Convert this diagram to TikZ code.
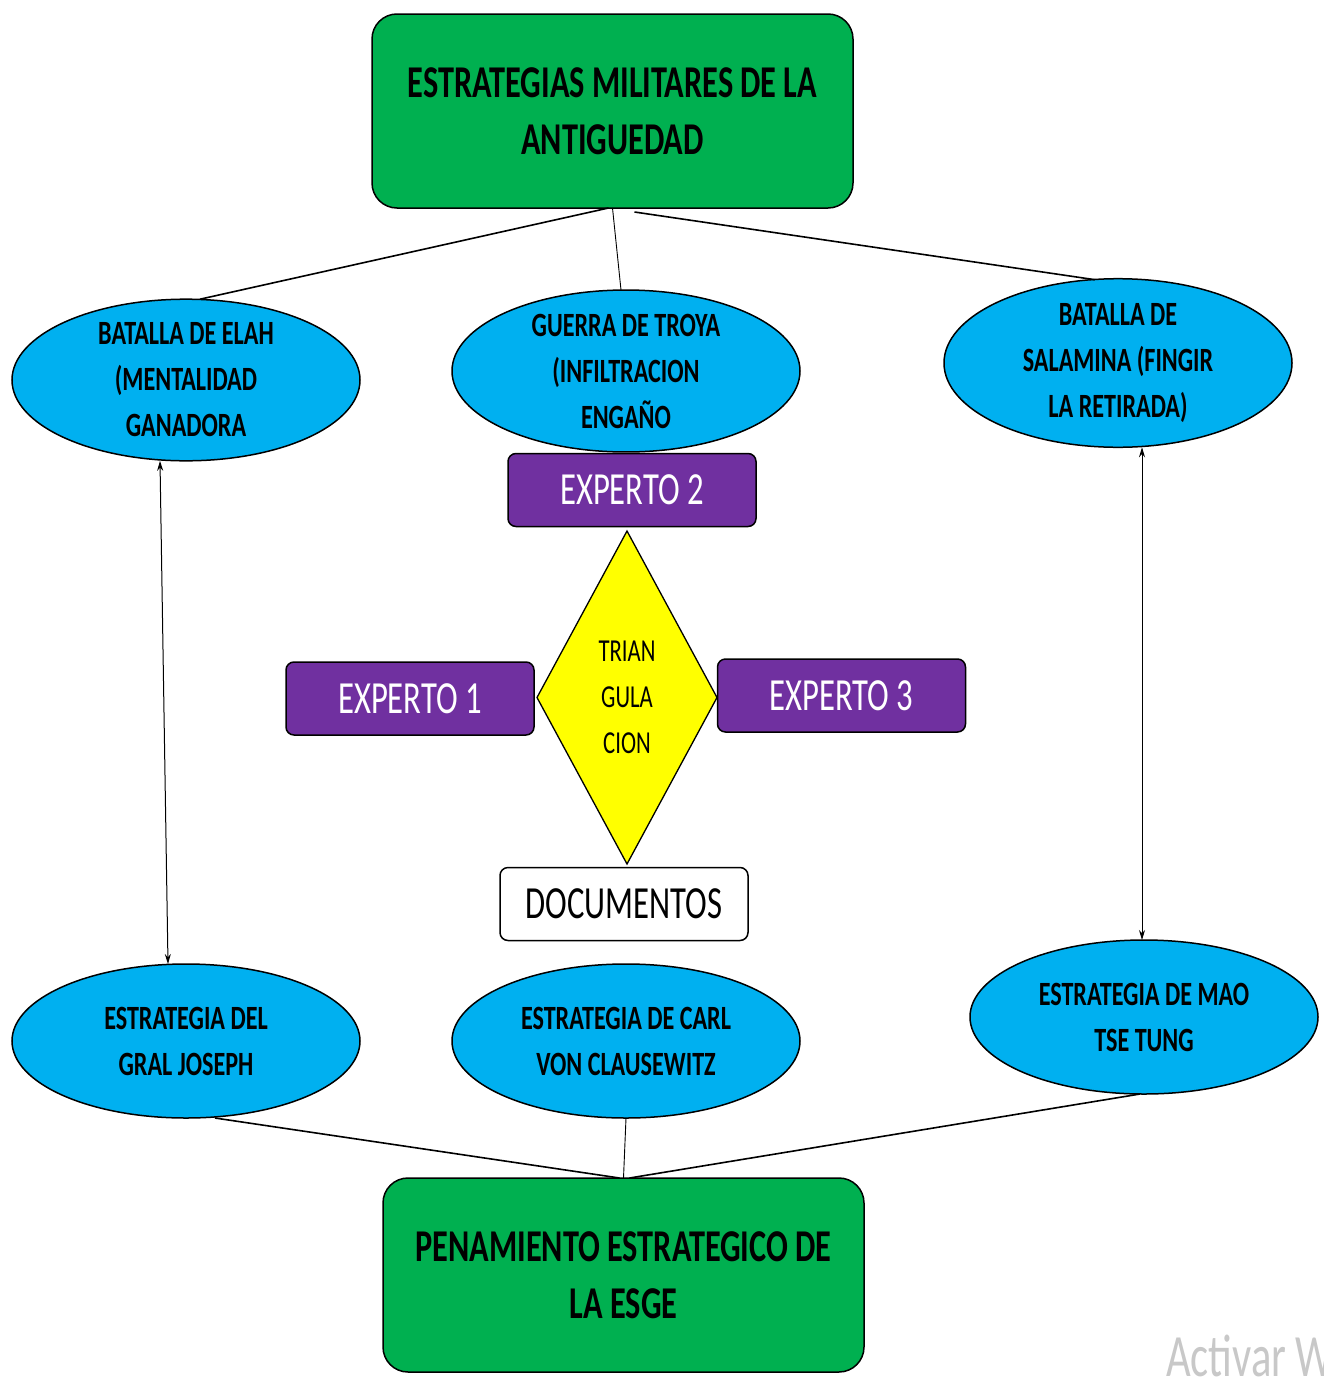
\documentclass[tikz,border=0pt]{standalone}
\usepackage{fontspec}
\setmainfont{Carlito}[FakeStretch=0.71]
\usetikzlibrary{shapes.geometric,arrows.meta,calc}
\definecolor{cgreen}{HTML}{00B050}
\definecolor{cblue}{HTML}{00B0F0}
\definecolor{cpurple}{HTML}{7030A0}
\definecolor{cyellow}{HTML}{FFFF00}
\definecolor{wmgray}{HTML}{C8C8C8}
\begin{document}
\begin{tikzpicture}[x=1pt,y=-1pt,
  every node/.style={inner sep=0pt, outer sep=0pt},
  titlebox/.style={draw=black, line width=1.5pt, fill=cgreen, rounded corners=25pt,
    minimum width=481pt, minimum height=194pt, align=center,
    font=\fontsize{45.5}{57}\selectfont\bfseries},
  oval/.style={ellipse, draw=black, line width=1.5pt, fill=cblue,
    minimum width=348pt, minimum height=154pt, align=center,
    font=\fontsize{34}{46}\selectfont\bfseries},
  expbox/.style={draw=black, line width=1.5pt, fill=cpurple, rounded corners=8pt,
    minimum width=248pt, minimum height=73pt, text=white,
    font=\fontsize{46}{50}\selectfont},
  docbox/.style={draw=black, line width=1.5pt, fill=white, rounded corners=8pt,
    minimum width=248pt, minimum height=73pt,
    font=\fontsize{46}{50}\selectfont},
  tri/.style={diamond, draw=black, line width=1.3pt, fill=cyellow, aspect=0.54,
    minimum width=180pt, minimum height=333pt, align=center,
    font=\fontsize{32}{46}\selectfont},
  thick link/.style={line width=1.6pt, black},
  thin link/.style={line width=0.9pt, black},
  both arrow/.style={line width=1pt, black,
    {Stealth[length=10pt,width=6pt]}-{Stealth[length=10pt,width=6pt]}}
]
\clip (0,0) rectangle (1323,1384);
\fill[white] (0,0) rectangle (1323,1384);

\node[titlebox] (top) at (612.5,111) {ESTRATEGIAS MILITARES DE LA\\ANTIGUEDAD};
\node[titlebox] (bot) at (623.5,1275) {PENAMIENTO ESTRATEGICO DE\\LA ESGE};

\node[oval] (elah) at (186,380) {BATALLA DE ELAH\\(MENTALIDAD\\GANADORA};
\node[oval] (troya) at (626,371) {GUERRA DE TROYA\\(INFILTRACION\\ENGAÑO};
\node[oval] (sala) at (1118,363) {BATALLA DE\\SALAMINA (FINGIR\\LA RETIRADA)};

\node[oval] (joseph) at (186,1041) {ESTRATEGIA DEL\\GRAL JOSEPH};
\node[oval] (carl) at (626,1041) {ESTRATEGIA DE CARL\\VON CLAUSEWITZ};
\node[oval] (mao) at (1144,1017) {ESTRATEGIA DE MAO\\TSE TUNG};

\node[expbox] (e2) at (632,490) {EXPERTO 2};
\node[expbox] (e1) at (410,698.5) {EXPERTO 1};
\node[expbox] (e3) at (841.5,695.5) {EXPERTO 3};
\node[docbox] (doc) at (624,904) {DOCUMENTOS};
\node[tri] (tri) at (627,697.5) {TRIAN\\GULA\\CION};

\draw[thick link] ([xshift=-4pt]top.south) -- ([xshift=14pt]elah.north);
\draw[thin link] (top.south) -- ([xshift=-5pt]troya.north);
\draw[thick link] ([xshift=22pt,yshift=-4pt]top.south) -- ([xshift=-23pt,yshift=-1pt]sala.north);

\draw[both arrow] ([xshift=-26pt]elah.south) -- ([xshift=-18pt]joseph.north);
\draw[both arrow] ([xshift=24pt]sala.south) -- ([xshift=-2pt]mao.north);

\draw[thick link] ([xshift=29pt]joseph.south) -- ([xshift=-4pt]bot.north);
\draw[thin link] (carl.south) -- (bot.north);
\draw[thick link] ([xshift=-4pt]mao.south) -- ([xshift=6pt]bot.north);

\node[anchor=base west, text=wmgray, font=\fontsize{60}{60}\selectfont] (wm) at (1166,1376) {Activar W};
\end{tikzpicture}
\end{document}
